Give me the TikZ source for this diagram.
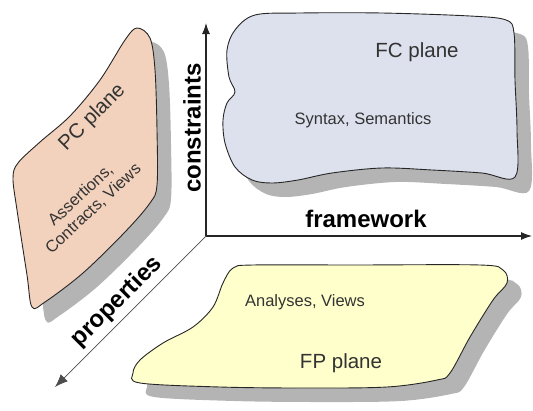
\documentclass[tikz,border=0pt]{standalone}
\usepackage{fontspec}
\setmainfont{Liberation Sans}
\usetikzlibrary{arrows.meta}
\definecolor{pcfill}{HTML}{F3D2BD}
\definecolor{fcfill}{HTML}{DDE1EE}
\definecolor{fpfill}{HTML}{FFFFCC}
\definecolor{shadowgray}{HTML}{B4B4B4}
\definecolor{textgray}{HTML}{333333}
\tikzset{
  plane/.style={draw=black!85, line width=0.9pt},
  shade/.style={fill=shadowgray, shift={(14,14)}},
  axis/.style={draw=black!85, line width=1.1pt, -{Latex[length=11pt,width=8pt]}},
  axislabel/.style={font=\bfseries\fontsize{24}{24}\selectfont, inner sep=0pt},
  bigtext/.style={text=textgray, font=\fontsize{20.5}{22}\selectfont, inner sep=0pt},
  smalltext/.style={text=textgray, font=\fontsize{16.5}{18.5}\selectfont, inner sep=0pt, align=center}
}
\begin{document}
\begin{tikzpicture}[x=1pt,y=-1pt]
\useasboundingbox (0,0) rectangle (533,410);
\def \pcplane{plot[smooth cycle, tension=0.55] coordinates {(137,28) (150,38) (155,70) (157,130) (157,185) (150,203) (125,232) (83,273) (45,302) (32,307) (27,275) (17,210) (13,178) (18,163) (40,142) (70,116) (100,80) (125,40)}}
\def \fcplane{plot[smooth cycle, tension=0.55] coordinates {(255,15) (300,13) (382,13) (470,16) (506,20) (514,33) (515,80) (517,130) (515,177) (482,173) (432,170) (382,168) (332,173) (298,180) (272,183) (252,180) (235,167) (225,143) (223,120) (227,103) (235,92) (229,77) (227,50) (235,30)}}
\def \fpplane{plot[smooth cycle, tension=0.55] coordinates {(253,265) (353,265) (480,265) (503,270) (507,283) (493,300) (470,337) (450,373) (437,380) (387,387) (303,388) (220,387) (140,383) (133,373) (140,360) (163,343) (193,327) (213,307) (223,283) (233,268)}}
% shadows
\fill[shade] \pcplane;
\fill[shade] \fcplane;
\fill[shade] \fpplane;
% planes
\filldraw[plane, fill=pcfill] \pcplane;
\filldraw[plane, fill=fcfill] \fcplane;
\filldraw[plane, fill=fpfill] \fpplane;
\node[bigtext, rotate=45] (pc) at (92.5,117.5) {PC plane};
\node[smalltext, rotate=43] (pcsub) at (87,202) {Assertions,\\Contracts, Views};
\node[bigtext] (fc) at (417,52) {FC plane};
\node[smalltext] (fcsub) at (363,120) {Syntax, Semantics};
\node[smalltext] (fpsub) at (305,302) {Analyses, Views};
\node[bigtext] (fp) at (341,363) {FP plane};
% axes
\coordinate (origin) at (206,236);
\coordinate (cend) at (206,23);
\coordinate (fend) at (532,236);
\coordinate (pend) at (55,387);
\draw[axis] (origin) -- (cend);
\draw[axis] (origin) -- (fend);
\draw[axis, draw=black!70, line width=0.7pt, -{Latex[length=13pt,width=10pt]}] (origin) -- (pend);
\node[axislabel, rotate=90] (constraints) at (192,128) {constraints};
\node[axislabel] (framework) at (366,219) {framework};
\node[axislabel, rotate=45] (properties) at (117,302) {properties};
\end{tikzpicture}
\end{document}
